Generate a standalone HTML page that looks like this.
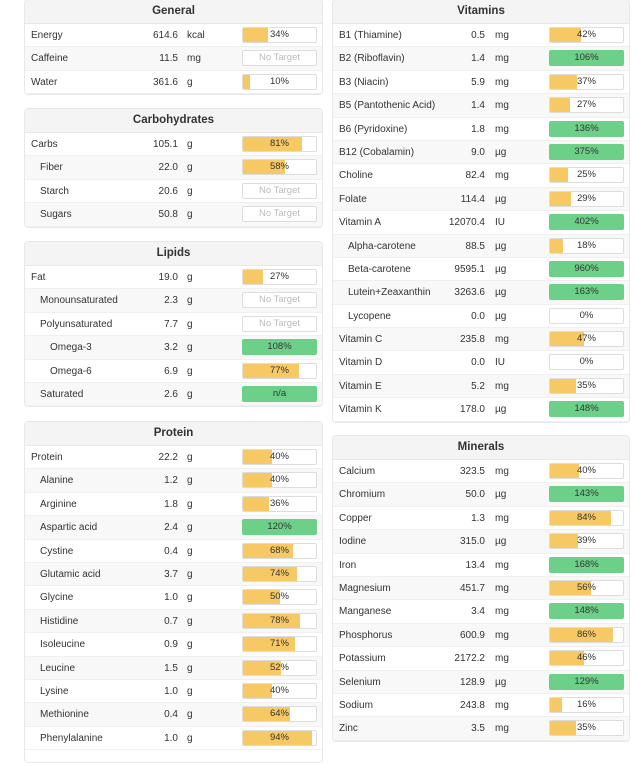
<!DOCTYPE html><html><head><meta charset="utf-8"><style>
body{margin:0;width:635px;height:750px;overflow:hidden;background:#fff;font-family:"Liberation Sans","DejaVu Sans",sans-serif;font-size:10px;color:#333}
.p{position:absolute;border:1px solid #e8e8e8;border-radius:4px;background:#fff;overflow:hidden}
.h{height:23px;line-height:23px;background:#f4f4f4;text-align:center;font-weight:bold;font-size:11.5px;color:#333;border-bottom:1px solid #e8e8e8}
.r{height:23.4px;position:relative;border-bottom:1px solid #f0f0f0;box-sizing:border-box}
.r:nth-child(odd){background:#f8f8f8}
.r span{position:absolute;top:6px}
.n{left:6px}.i1 .n{left:15px}.i2 .n{left:25px}
.v{right:144px;text-align:right}
.u{left:162px}
.b{position:absolute;right:5px;top:3px;width:75px;height:16px;border:1px solid #ddd;border-radius:2px;background:#fff;box-sizing:border-box;text-align:center;line-height:14px;font-size:9.5px;overflow:hidden}
.b i{position:absolute;left:0;top:0;bottom:0;background:#f7c965}
.b em{position:relative;font-style:normal}
.g{background:#6dd089;border-color:#6dd089}
.nt{color:#bbb}
</style></head><body>

<div class="p" style="left:24px;top:-1px;width:297px">
<div class="h">General</div>
<div class="r"><span class="n">Energy</span><span class="v">614.6</span><span class="u">kcal</span><div class="b"><i style="width:34%"></i><em>34%</em></div></div>
<div class="r"><span class="n">Caffeine</span><span class="v">11.5</span><span class="u">mg</span><div class="b nt">No Target</div></div>
<div class="r"><span class="n">Water</span><span class="v">361.6</span><span class="u">g</span><div class="b"><i style="width:10%"></i><em>10%</em></div></div>
</div>

<div class="p" style="left:24px;top:108px;width:297px">
<div class="h">Carbohydrates</div>
<div class="r"><span class="n">Carbs</span><span class="v">105.1</span><span class="u">g</span><div class="b"><i style="width:81%"></i><em>81%</em></div></div>
<div class="r i1"><span class="n">Fiber</span><span class="v">22.0</span><span class="u">g</span><div class="b"><i style="width:58%"></i><em>58%</em></div></div>
<div class="r i1"><span class="n">Starch</span><span class="v">20.6</span><span class="u">g</span><div class="b nt">No Target</div></div>
<div class="r i1"><span class="n">Sugars</span><span class="v">50.8</span><span class="u">g</span><div class="b nt">No Target</div></div>
</div>

<div class="p" style="left:24px;top:241px;width:297px">
<div class="h">Lipids</div>
<div class="r"><span class="n">Fat</span><span class="v">19.0</span><span class="u">g</span><div class="b"><i style="width:27%"></i><em>27%</em></div></div>
<div class="r i1"><span class="n">Monounsaturated</span><span class="v">2.3</span><span class="u">g</span><div class="b nt">No Target</div></div>
<div class="r i1"><span class="n">Polyunsaturated</span><span class="v">7.7</span><span class="u">g</span><div class="b nt">No Target</div></div>
<div class="r i2"><span class="n">Omega-3</span><span class="v">3.2</span><span class="u">g</span><div class="b g">108%</div></div>
<div class="r i2"><span class="n">Omega-6</span><span class="v">6.9</span><span class="u">g</span><div class="b"><i style="width:77%"></i><em>77%</em></div></div>
<div class="r i1"><span class="n">Saturated</span><span class="v">2.6</span><span class="u">g</span><div class="b g">n/a</div></div>
</div>

<div class="p" style="left:24px;top:421px;width:297px;height:340px">
<div class="h">Protein</div>
<div class="r"><span class="n">Protein</span><span class="v">22.2</span><span class="u">g</span><div class="b"><i style="width:40%"></i><em>40%</em></div></div>
<div class="r i1"><span class="n">Alanine</span><span class="v">1.2</span><span class="u">g</span><div class="b"><i style="width:40%"></i><em>40%</em></div></div>
<div class="r i1"><span class="n">Arginine</span><span class="v">1.8</span><span class="u">g</span><div class="b"><i style="width:36%"></i><em>36%</em></div></div>
<div class="r i1"><span class="n">Aspartic acid</span><span class="v">2.4</span><span class="u">g</span><div class="b g">120%</div></div>
<div class="r i1"><span class="n">Cystine</span><span class="v">0.4</span><span class="u">g</span><div class="b"><i style="width:68%"></i><em>68%</em></div></div>
<div class="r i1"><span class="n">Glutamic acid</span><span class="v">3.7</span><span class="u">g</span><div class="b"><i style="width:74%"></i><em>74%</em></div></div>
<div class="r i1"><span class="n">Glycine</span><span class="v">1.0</span><span class="u">g</span><div class="b"><i style="width:50%"></i><em>50%</em></div></div>
<div class="r i1"><span class="n">Histidine</span><span class="v">0.7</span><span class="u">g</span><div class="b"><i style="width:78%"></i><em>78%</em></div></div>
<div class="r i1"><span class="n">Isoleucine</span><span class="v">0.9</span><span class="u">g</span><div class="b"><i style="width:71%"></i><em>71%</em></div></div>
<div class="r i1"><span class="n">Leucine</span><span class="v">1.5</span><span class="u">g</span><div class="b"><i style="width:52%"></i><em>52%</em></div></div>
<div class="r i1"><span class="n">Lysine</span><span class="v">1.0</span><span class="u">g</span><div class="b"><i style="width:40%"></i><em>40%</em></div></div>
<div class="r i1"><span class="n">Methionine</span><span class="v">0.4</span><span class="u">g</span><div class="b"><i style="width:64%"></i><em>64%</em></div></div>
<div class="r i1"><span class="n">Phenylalanine</span><span class="v">1.0</span><span class="u">g</span><div class="b"><i style="width:94%"></i><em>94%</em></div></div>
</div>

<div class="p" style="left:332px;top:-1px;width:296px">
<div class="h">Vitamins</div>
<div class="r"><span class="n">B1 (Thiamine)</span><span class="v">0.5</span><span class="u">mg</span><div class="b"><i style="width:42%"></i><em>42%</em></div></div>
<div class="r"><span class="n">B2 (Riboflavin)</span><span class="v">1.4</span><span class="u">mg</span><div class="b g">106%</div></div>
<div class="r"><span class="n">B3 (Niacin)</span><span class="v">5.9</span><span class="u">mg</span><div class="b"><i style="width:37%"></i><em>37%</em></div></div>
<div class="r"><span class="n">B5 (Pantothenic Acid)</span><span class="v">1.4</span><span class="u">mg</span><div class="b"><i style="width:27%"></i><em>27%</em></div></div>
<div class="r"><span class="n">B6 (Pyridoxine)</span><span class="v">1.8</span><span class="u">mg</span><div class="b g">136%</div></div>
<div class="r"><span class="n">B12 (Cobalamin)</span><span class="v">9.0</span><span class="u">µg</span><div class="b g">375%</div></div>
<div class="r"><span class="n">Choline</span><span class="v">82.4</span><span class="u">mg</span><div class="b"><i style="width:25%"></i><em>25%</em></div></div>
<div class="r"><span class="n">Folate</span><span class="v">114.4</span><span class="u">µg</span><div class="b"><i style="width:29%"></i><em>29%</em></div></div>
<div class="r"><span class="n">Vitamin A</span><span class="v">12070.4</span><span class="u">IU</span><div class="b g">402%</div></div>
<div class="r i1"><span class="n">Alpha-carotene</span><span class="v">88.5</span><span class="u">µg</span><div class="b"><i style="width:18%"></i><em>18%</em></div></div>
<div class="r i1"><span class="n">Beta-carotene</span><span class="v">9595.1</span><span class="u">µg</span><div class="b g">960%</div></div>
<div class="r i1"><span class="n">Lutein+Zeaxanthin</span><span class="v">3263.6</span><span class="u">µg</span><div class="b g">163%</div></div>
<div class="r i1"><span class="n">Lycopene</span><span class="v">0.0</span><span class="u">µg</span><div class="b"><em>0%</em></div></div>
<div class="r"><span class="n">Vitamin C</span><span class="v">235.8</span><span class="u">mg</span><div class="b"><i style="width:47%"></i><em>47%</em></div></div>
<div class="r"><span class="n">Vitamin D</span><span class="v">0.0</span><span class="u">IU</span><div class="b"><em>0%</em></div></div>
<div class="r"><span class="n">Vitamin E</span><span class="v">5.2</span><span class="u">mg</span><div class="b"><i style="width:35%"></i><em>35%</em></div></div>
<div class="r"><span class="n">Vitamin K</span><span class="v">178.0</span><span class="u">µg</span><div class="b g">148%</div></div>
</div>

<div class="p" style="left:332px;top:435px;width:296px">
<div class="h">Minerals</div>
<div class="r"><span class="n">Calcium</span><span class="v">323.5</span><span class="u">mg</span><div class="b"><i style="width:40%"></i><em>40%</em></div></div>
<div class="r"><span class="n">Chromium</span><span class="v">50.0</span><span class="u">µg</span><div class="b g">143%</div></div>
<div class="r"><span class="n">Copper</span><span class="v">1.3</span><span class="u">mg</span><div class="b"><i style="width:84%"></i><em>84%</em></div></div>
<div class="r"><span class="n">Iodine</span><span class="v">315.0</span><span class="u">µg</span><div class="b"><i style="width:39%"></i><em>39%</em></div></div>
<div class="r"><span class="n">Iron</span><span class="v">13.4</span><span class="u">mg</span><div class="b g">168%</div></div>
<div class="r"><span class="n">Magnesium</span><span class="v">451.7</span><span class="u">mg</span><div class="b"><i style="width:56%"></i><em>56%</em></div></div>
<div class="r"><span class="n">Manganese</span><span class="v">3.4</span><span class="u">mg</span><div class="b g">148%</div></div>
<div class="r"><span class="n">Phosphorus</span><span class="v">600.9</span><span class="u">mg</span><div class="b"><i style="width:86%"></i><em>86%</em></div></div>
<div class="r"><span class="n">Potassium</span><span class="v">2172.2</span><span class="u">mg</span><div class="b"><i style="width:46%"></i><em>46%</em></div></div>
<div class="r"><span class="n">Selenium</span><span class="v">128.9</span><span class="u">µg</span><div class="b g">129%</div></div>
<div class="r"><span class="n">Sodium</span><span class="v">243.8</span><span class="u">mg</span><div class="b"><i style="width:16%"></i><em>16%</em></div></div>
<div class="r"><span class="n">Zinc</span><span class="v">3.5</span><span class="u">mg</span><div class="b"><i style="width:35%"></i><em>35%</em></div></div>
</div>
</body></html>
